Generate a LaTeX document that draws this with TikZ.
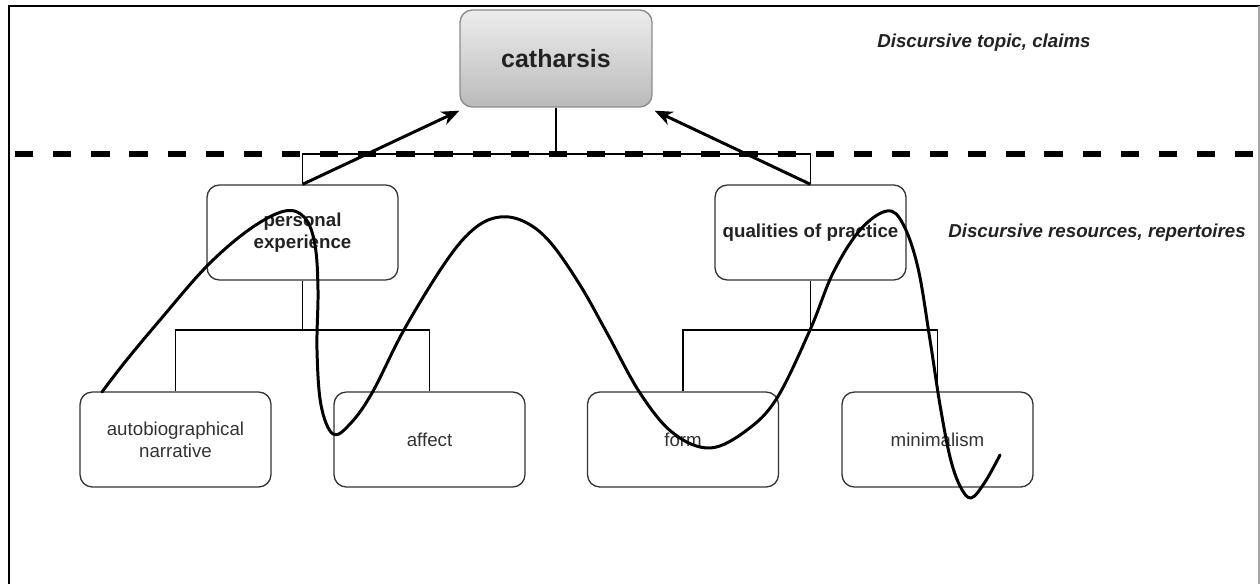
\documentclass[tikz,border=0pt]{standalone}
\usepackage{fontspec}
\setmainfont{Liberation Sans}
\usetikzlibrary{arrows.meta}
\definecolor{boxline}{HTML}{333333}
\definecolor{inktext}{HTML}{222222}
\definecolor{softtext}{HTML}{333333}
\tikzset{
  topicbox/.style={draw=black!45, line width=0.8pt, rounded corners=7pt,
    top color=black!7, bottom color=black!27,
    minimum width=3.84cm, minimum height=1.94cm, inner sep=0pt,
    font=\fontsize{14.2}{17}\selectfont\bfseries, text=inktext},
  resourcebox/.style={draw=boxline, line width=0.75pt, rounded corners=7pt,
    minimum width=3.82cm, minimum height=1.9cm, inner sep=0pt, align=center,
    font=\fontsize{10.65}{12.5}\selectfont\bfseries, text=inktext},
  leafbox/.style={resourcebox, font=\fontsize{10.65}{12.5}\selectfont, text=softtext},
  branch/.style={draw=black, line width=0.8pt},
  support/.style={draw=black, line width=1.7pt,
    -{Stealth[length=10pt, width=8pt, inset=3pt]}},
  layerlabel/.style={anchor=west, inner sep=0pt,
    font=\fontsize{10.65}{12.5}\selectfont\bfseries\itshape, text=inktext},
  freehand/.style={draw=black, line width=1.7pt, line cap=round, line join=round}
}
\begin{document}
\begin{tikzpicture}[x=0.02cm, y=-0.02cm]
\useasboundingbox (0,0) rectangle (1260,584);

% frame
\draw[line width=1.1pt] (9,584) -- (9,6) -- (1260,6);
\draw[line width=1pt, black!35] (1259,6) -- (1259,584);

% boundary between the two levels
\draw[line width=2.9pt, dash pattern=on 10.4pt off 11.3pt] (15,154) -- (1260,154);

% nodes
\node[topicbox] (cat) at (556,58.5) {catharsis};
\node[resourcebox] (pe) at (302.5,232.5) {personal\\experience};
\node[resourcebox] (qp) at (810.5,232.5) {qualities of practice};
\node[leafbox] (ab) at (175.5,439.5) {autobiographical\\narrative};
\node[leafbox] (af) at (429.5,439.5) {affect};
\node[leafbox] (fo) at (683,439.5) {form};
\node[leafbox] (mi) at (937.5,439.5) {minimalism};

\node[layerlabel] (lt) at (877,43) {Discursive topic, claims};
\node[layerlabel] (lr) at (948,233) {Discursive resources, repertoires};

% tree connectors
\coordinate (bar) at (556,154);
\coordinate (lbar) at (302.5,330);
\coordinate (rbar) at (810.5,330);
\draw[branch] (cat.south) -- (bar);
\draw[branch] (pe.north) |- (bar) -| (qp.north);
\draw[branch] (pe.south) -- (lbar);
\draw[branch] (ab.north) |- (lbar) -| (af.north);
\draw[branch] (qp.south) -- (rbar);
\draw[branch] (fo.north) |- (rbar) -| (mi.north);

% arrows up to the topic
\draw[support] (pe.north) -- ([shift={(0,3)}]cat.south west);
\draw[support] (qp.north) -- ([shift={(2,3)}]cat.south east);

% freehand line weaving through the resources
\draw[freehand] plot[smooth, tension=0.6] coordinates {
  (102,392) (125,362) (160,320) (207,266) (250,229) (285,211) (305,218)
  (315,245) (318,290) (317,350) (321,405) (333,434) (350,424) (372,393)
  (405,328) (447,260) (475,228) (500,217) (525,222) (550,242) (580,285)
  (607,333) (640,393) (673,433) (710,448) (747,430) (777,398) (810,330)
  (833,273) (860,230) (887,211) (903,224) (918,268) (930,340) (940,405)
  (950,457) (960,486) (971,498) (985,482) (1000,455)};
\end{tikzpicture}
\end{document}
